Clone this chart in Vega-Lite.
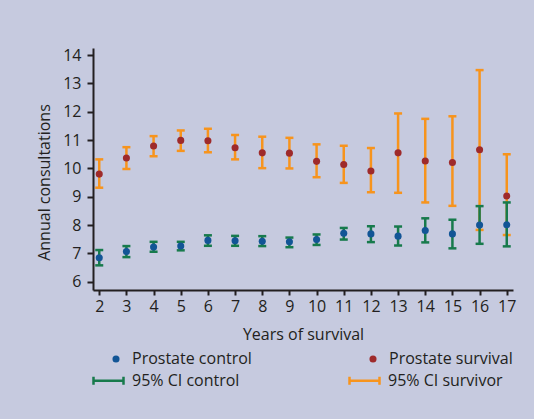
{
  "$schema": "https://vega.github.io/schema/vega-lite/v6.json",
  "autosize": "none",
  "width": 420,
  "height": 242,
  "padding": {"left": 93, "top": 48, "right": 21, "bottom": 129},
  "background": "#c6cadf",
  "config": {
    "view": {"stroke": null},
    "font": "Open Sans",
    "axis": {
      "domainColor": "#231f20", "domainWidth": 2, "tickColor": "#231f20", "tickWidth": 2,
      "labelColor": "#231f20", "labelFontSize": 16, "labelFont": "Open Sans", "labelOverlap": false,
      "titleColor": "#231f20", "titleFontSize": 16, "titleFont": "Open Sans", "titleFontWeight": "normal",
      "grid": false
    },
    "legend": {
      "labelFont": "Open Sans", "labelFontSize": 16, "labelColor": "#231f20", "symbolOpacity": 1
    }
  },
  "data": {"values": [
    {"year": 2, "surv": 9.80, "surv_lo": 9.32, "surv_hi": 10.32, "ctrl": 6.85, "ctrl_lo": 6.58, "ctrl_hi": 7.12},
    {"year": 3, "surv": 10.37, "surv_lo": 9.98, "surv_hi": 10.75, "ctrl": 7.07, "ctrl_lo": 6.87, "ctrl_hi": 7.26},
    {"year": 4, "surv": 10.79, "surv_lo": 10.43, "surv_hi": 11.14, "ctrl": 7.23, "ctrl_lo": 7.06, "ctrl_hi": 7.41},
    {"year": 5, "surv": 10.99, "surv_lo": 10.62, "surv_hi": 11.34, "ctrl": 7.26, "ctrl_lo": 7.11, "ctrl_hi": 7.41},
    {"year": 6, "surv": 10.98, "surv_lo": 10.57, "surv_hi": 11.40, "ctrl": 7.46, "ctrl_lo": 7.27, "ctrl_hi": 7.64},
    {"year": 7, "surv": 10.73, "surv_lo": 10.32, "surv_hi": 11.18, "ctrl": 7.45, "ctrl_lo": 7.27, "ctrl_hi": 7.62},
    {"year": 8, "surv": 10.55, "surv_lo": 10.01, "surv_hi": 11.12, "ctrl": 7.43, "ctrl_lo": 7.26, "ctrl_hi": 7.61},
    {"year": 9, "surv": 10.54, "surv_lo": 10.00, "surv_hi": 11.08, "ctrl": 7.41, "ctrl_lo": 7.22, "ctrl_hi": 7.56},
    {"year": 10, "surv": 10.25, "surv_lo": 9.69, "surv_hi": 10.85, "ctrl": 7.49, "ctrl_lo": 7.30, "ctrl_hi": 7.67},
    {"year": 11, "surv": 10.14, "surv_lo": 9.49, "surv_hi": 10.80, "ctrl": 7.71, "ctrl_lo": 7.49, "ctrl_hi": 7.90},
    {"year": 12, "surv": 9.91, "surv_lo": 9.16, "surv_hi": 10.72, "ctrl": 7.69, "ctrl_lo": 7.40, "ctrl_hi": 7.96},
    {"year": 13, "surv": 10.55, "surv_lo": 9.14, "surv_hi": 11.94, "ctrl": 7.61, "ctrl_lo": 7.28, "ctrl_hi": 7.95},
    {"year": 14, "surv": 10.26, "surv_lo": 8.80, "surv_hi": 11.75, "ctrl": 7.81, "ctrl_lo": 7.39, "ctrl_hi": 8.24},
    {"year": 15, "surv": 10.21, "surv_lo": 8.68, "surv_hi": 11.84, "ctrl": 7.69, "ctrl_lo": 7.18, "ctrl_hi": 8.19},
    {"year": 16, "surv": 10.66, "surv_lo": 7.83, "surv_hi": 13.47, "ctrl": 8.00, "ctrl_lo": 7.34, "ctrl_hi": 8.67},
    {"year": 17, "surv": 9.03, "surv_lo": 7.65, "surv_hi": 10.50, "ctrl": 8.01, "ctrl_lo": 7.25, "ctrl_hi": 8.80}
  ]},
  "encoding": {
    "x": {
      "field": "year", "type": "quantitative",
      "scale": {"domain": [1.77, 17.23], "nice": false, "zero": false},
      "axis": {"values": [2,3,4,5,6,7,8,9,10,11,12,13,14,15,16,17], "tickSize": 5, "labelPadding": 3, "title": "Years of survival", "titleY": 44, "titleBaseline": "middle"}
    }
  },
  "layer": [
    {
      "mark": {"type": "rule", "strokeWidth": 2.5},
      "encoding": {
        "y": {"field": "surv_lo", "type": "quantitative",
          "scale": {"domain": [5.71, 14.25], "nice": false, "zero": false},
          "axis": {"values": [6,7,8,9,10,11,12,13,14], "tickSize": 6, "labelPadding": 6, "title": "Annual consultations", "titleX": -49, "titleY": 134, "titleAngle": 270, "titleAlign": "center", "titleBaseline": "middle"}},
        "y2": {"field": "surv_hi"},
        "stroke": {
          "datum": "95% CI survivor",
          "scale": {"domain": ["95% CI control", "95% CI survivor"], "range": ["#177a4c", "#f7941d"]},
          "legend": {
            "title": null, "orient": "none", "legendX": -1, "legendY": 316,
            "direction": "horizontal", "columns": 2, "columnPadding": 104,
            "symbolType": "M-1,0H1M-1,-0.27V0.27M1,-0.27V0.27", "symbolSize": 900, "symbolStrokeWidth": 2.5,
            "symbolFillColor": "transparent", "labelOffset": 7
          }
        }
      }
    },
    {
      "mark": {"type": "tick", "orient": "horizontal", "color": "#f7941d", "size": 8, "thickness": 2.5, "opacity": 1},
      "encoding": {"y": {"field": "surv_lo", "type": "quantitative",
          "scale": {"domain": [5.71, 14.25], "nice": false, "zero": false},
          "axis": {"values": [6,7,8,9,10,11,12,13,14], "tickSize": 6, "labelPadding": 6, "title": "Annual consultations", "titleX": -49, "titleY": 134, "titleAngle": 270, "titleAlign": "center", "titleBaseline": "middle"}}}
    },
    {
      "mark": {"type": "tick", "orient": "horizontal", "color": "#f7941d", "size": 8, "thickness": 2.5, "opacity": 1},
      "encoding": {"y": {"field": "surv_hi", "type": "quantitative",
          "scale": {"domain": [5.71, 14.25], "nice": false, "zero": false},
          "axis": {"values": [6,7,8,9,10,11,12,13,14], "tickSize": 6, "labelPadding": 6, "title": "Annual consultations", "titleX": -49, "titleY": 134, "titleAngle": 270, "titleAlign": "center", "titleBaseline": "middle"}}}
    },
    {
      "mark": {"type": "point", "filled": true, "size": 50, "opacity": 1},
      "encoding": {
        "y": {"field": "surv", "type": "quantitative",
          "scale": {"domain": [5.71, 14.25], "nice": false, "zero": false},
          "axis": {"values": [6,7,8,9,10,11,12,13,14], "tickSize": 6, "labelPadding": 6, "title": "Annual consultations", "titleX": -49, "titleY": 134, "titleAngle": 270, "titleAlign": "center", "titleBaseline": "middle"}},
        "fill": {
          "datum": "Prostate survival",
          "scale": {"domain": ["Prostate control", "Prostate survival"], "range": ["#125596", "#9e2a2b"]},
          "legend": {
            "title": null, "orient": "none", "legendX": 15, "legendY": 303,
            "direction": "horizontal", "columns": 2, "columnPadding": 113,
            "symbolType": "circle", "symbolSize": 50, "labelOffset": 8
          }
        }
      }
    },
    {
      "mark": {"type": "rule", "strokeWidth": 2.5},
      "encoding": {
        "y": {"field": "ctrl_lo", "type": "quantitative",
          "scale": {"domain": [5.71, 14.25], "nice": false, "zero": false},
          "axis": {"values": [6,7,8,9,10,11,12,13,14], "tickSize": 6, "labelPadding": 6, "title": "Annual consultations", "titleX": -49, "titleY": 134, "titleAngle": 270, "titleAlign": "center", "titleBaseline": "middle"}},
        "y2": {"field": "ctrl_hi"},
        "stroke": {"datum": "95% CI control"}
      }
    },
    {
      "mark": {"type": "tick", "orient": "horizontal", "color": "#177a4c", "size": 8, "thickness": 2.5, "opacity": 1},
      "encoding": {"y": {"field": "ctrl_lo", "type": "quantitative",
          "scale": {"domain": [5.71, 14.25], "nice": false, "zero": false},
          "axis": {"values": [6,7,8,9,10,11,12,13,14], "tickSize": 6, "labelPadding": 6, "title": "Annual consultations", "titleX": -49, "titleY": 134, "titleAngle": 270, "titleAlign": "center", "titleBaseline": "middle"}}}
    },
    {
      "mark": {"type": "tick", "orient": "horizontal", "color": "#177a4c", "size": 8, "thickness": 2.5, "opacity": 1},
      "encoding": {"y": {"field": "ctrl_hi", "type": "quantitative",
          "scale": {"domain": [5.71, 14.25], "nice": false, "zero": false},
          "axis": {"values": [6,7,8,9,10,11,12,13,14], "tickSize": 6, "labelPadding": 6, "title": "Annual consultations", "titleX": -49, "titleY": 134, "titleAngle": 270, "titleAlign": "center", "titleBaseline": "middle"}}}
    },
    {
      "mark": {"type": "point", "filled": true, "size": 50, "opacity": 1},
      "encoding": {
        "y": {"field": "ctrl", "type": "quantitative",
          "scale": {"domain": [5.71, 14.25], "nice": false, "zero": false},
          "axis": {"values": [6,7,8,9,10,11,12,13,14], "tickSize": 6, "labelPadding": 6, "title": "Annual consultations", "titleX": -49, "titleY": 134, "titleAngle": 270, "titleAlign": "center", "titleBaseline": "middle"}},
        "fill": {"datum": "Prostate control"}
      }
    }
  ]
}
